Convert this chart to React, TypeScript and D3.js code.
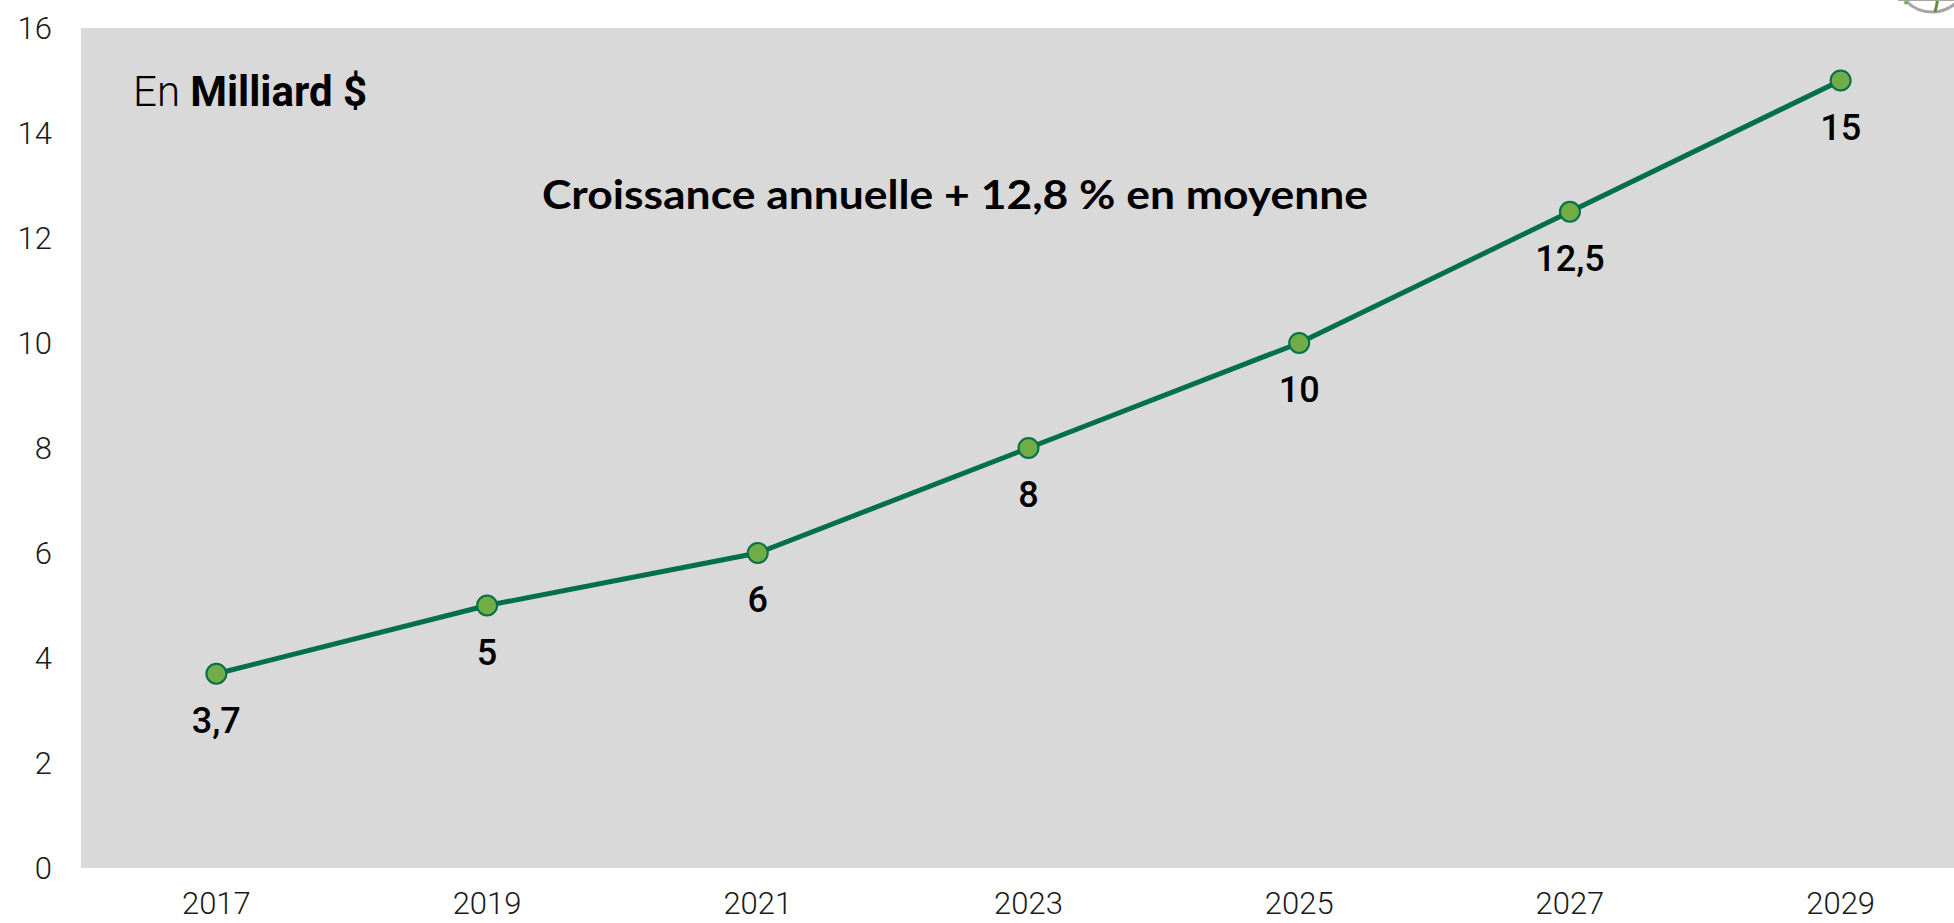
import React from 'react';
import { scaleLinear, scalePoint, line } from 'd3';

const width = 1954;
const height = 923;

const years = ['2017', '2019', '2021', '2023', '2025', '2027', '2029'];
const values = [3.7, 5, 6, 8, 10, 12.5, 15];
const yTicks = [0, 2, 4, 6, 8, 10, 12, 14, 16];

const plot = { left: 81, right: 1976, top: 28, bottom: 868 };

const fmt = (v: number) => String(v).replace('.', ',');

const App = () => {
  const xScale = scalePoint<string>()
    .domain(years)
    .range([plot.left, plot.right])
    .padding(0.5);

  const yScale = scaleLinear()
    .domain([0, 16])
    .range([plot.bottom, plot.top]);

  const pts = years.map((y, i) => ({ year: y, value: values[i] }));

  const path = line<{ year: string; value: number }>()
    .x(d => xScale(d.year) as number)
    .y(d => yScale(d.value))(pts);

  return (
    <svg
      width={width}
      height={height}
      style={{ position: 'absolute', left: 0, top: 0, background: '#fff' }}
    >
      <rect
        x={plot.left}
        y={plot.top}
        width={plot.right - plot.left}
        height={plot.bottom - plot.top}
        fill="#D9D9D9"
      />

      {/* logo fragment top right */}
      <g fill="none" strokeWidth={3}>
        <circle cx={1932} cy={-24} r={36} stroke="#A6A6A6" />
        <path d="M1905,4 Q1915,-10 1912,-30" stroke="#70AD47" />
        <path d="M1935,12 Q1940,-5 1938,-30" stroke="#5E8F3A" />
        <path d="M1898,0 L1960,0" stroke="#A6A6A6" strokeWidth={2} />
      </g>

      {yTicks.map(t => (
        <text
          key={t}
          x={52}
          y={yScale(t)}
          dy="0.35em"
          textAnchor="end"
          fontFamily="Roboto"
          fontWeight={300}
          fontSize={31}
          fill="#1a1a1a"
        >
          {t}
        </text>
      ))}

      {years.map(y => (
        <text
          key={y}
          x={xScale(y)}
          y={914}
          textAnchor="middle"
          fontFamily="Roboto"
          fontWeight={300}
          fontSize={31}
          fill="#1a1a1a"
        >
          {y}
        </text>
      ))}

      <text x={133} y={106} fontFamily="Roboto" fontSize={42} fill="#000">
        <tspan fontWeight={300}>En </tspan>
        <tspan fontWeight={700}>Milliard $</tspan>
      </text>

      <text
        x={955}
        y={209}
        textAnchor="middle"
        fontFamily="Lato"
        fontWeight={700}
        fontSize={40}
        textLength={826}
        lengthAdjust="spacingAndGlyphs"
        fill="#000"
      >
        Croissance annuelle + 12,8 % en moyenne
      </text>

      <path d={path || ''} fill="none" stroke="#00704A" strokeWidth={5} />

      {pts.map(d => (
        <g key={d.year}>
          <circle
            cx={xScale(d.year)}
            cy={yScale(d.value)}
            r={10}
            fill="#70AD47"
            stroke="#00704A"
            strokeWidth={2}
          />
          <text
            x={xScale(d.year)}
            y={yScale(d.value) + 59}
            textAnchor="middle"
            fontFamily="Roboto"
            fontWeight={500}
            fontSize={36}
            fill="#000"
          >
            {fmt(d.value)}
          </text>
        </g>
      ))}
    </svg>
  );
};

export default App;
